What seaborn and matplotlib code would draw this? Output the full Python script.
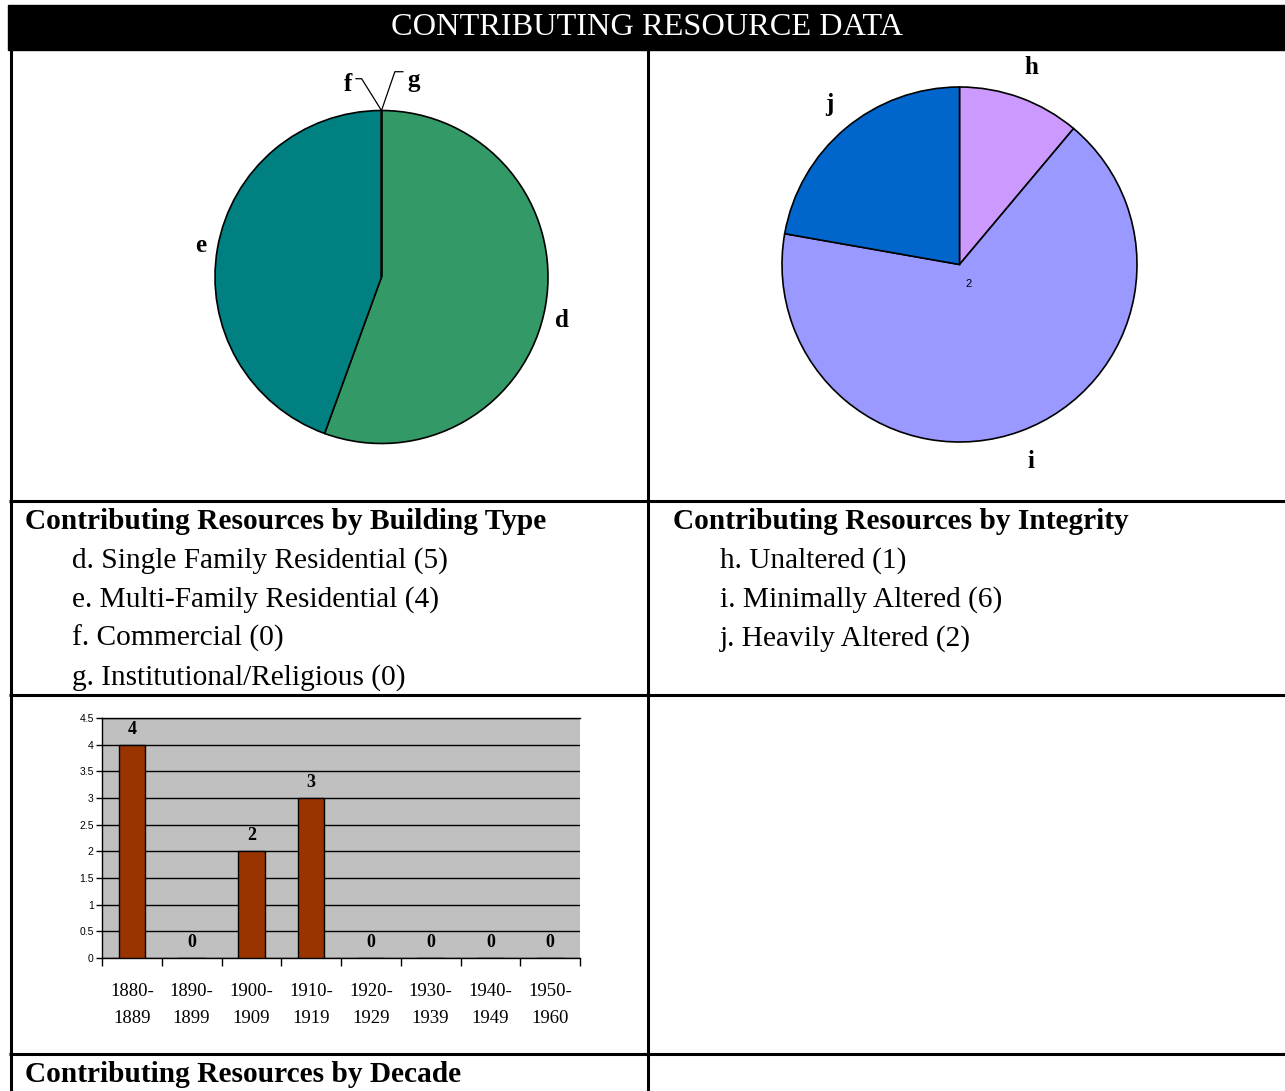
import numpy as np
import matplotlib
matplotlib.use("Agg")
import matplotlib.pyplot as plt
import seaborn as sns

# Contributing resources by building type
type_letters = ["d", "e", "f", "g"]
type_names = ["Single Family Residential", "Multi-Family Residential",
              "Commercial", "Institutional/Religious"]
type_counts = [5, 4, 0, 0]
type_colors = ["#339966", "#008080", "#333399", "#FFFF99"]

# Contributing resources by integrity
integ_letters = ["h", "i", "j"]
integ_names = ["Unaltered", "Minimally Altered", "Heavily Altered"]
integ_counts = [1, 6, 2]
integ_colors = ["#CC99FF", "#9999FF", "#0066CC"]

# Contributing resources by decade
decades = ["1880-\n1889", "1890-\n1899", "1900-\n1909", "1910-\n1919",
           "1920-\n1929", "1930-\n1939", "1940-\n1949", "1950-\n1960"]
decade_counts = [4, 0, 2, 3, 0, 0, 0, 0]

W, H = 1285, 1091
plt.rcParams["font.family"] = "Liberation Serif"

fig = plt.figure(figsize=(W / 100, H / 100), dpi=100)


def px_axes(left, top, width, height):
    return fig.add_axes([left / W, 1 - (top + height) / H, width / W, height / H])


# table frame, header and captions
frame = px_axes(0, 0, W, H)
frame.set_xlim(0, W)
frame.set_ylim(H, 0)
frame.axis("off")
frame.add_patch(plt.Rectangle((8, 5), W - 8, 45, color="black"))
frame.text(647, 27.5, "CONTRIBUTING RESOURCE DATA", color="white", fontsize=23.3,
           ha="center", va="center")
lw = 2.2
frame.vlines([10.5, 648], 49, H, color="black", lw=lw)
frame.hlines([500.5, 695, 1054], 9, W, color="black", lw=lw)

frame.text(25, 529, "Contributing Resources by Building Type", fontsize=21.2,
           fontweight="bold", va="baseline")
for k, (l, n, c) in enumerate(zip(type_letters, type_names, type_counts)):
    frame.text(72, 568 + 38.8 * k, f"{l}. {n} ({c})", fontsize=21.2, va="baseline")

frame.text(673, 529, "Contributing Resources by Integrity", fontsize=21.2,
           fontweight="bold", va="baseline")
for k, (l, n, c) in enumerate(zip(integ_letters, integ_names, integ_counts)):
    frame.text(720, 568 + 38.8 * k, f"{l}. {n} ({c})", fontsize=21.2, va="baseline")

frame.text(25, 1082, "Contributing Resources by Decade", fontsize=21.2,
           fontweight="bold", va="baseline")

label_font = dict(fontsize=18, fontweight="bold")

# pie 1: building type
ax1 = px_axes(215, 110.5, 333, 333)
wedges1, texts1 = ax1.pie(type_counts, colors=type_colors, startangle=90,
                          counterclock=False,
                          labels=["d", "e", "", ""], labeldistance=1.1,
                          wedgeprops=dict(edgecolor="black", linewidth=1.2),
                          textprops=label_font)
for t in texts1:
    t.set_ha("center")
texts1[0].set_va("top")
for w in wedges1:
    w.set_clip_on(False)
ax1.set_xlim(-1, 1)
ax1.set_ylim(-1, 1)

# zero slices get leader lines
for w, letter, off, rel, angB in [(wedges1[2], "f", (-34, 20), (1, 0.73), 122),
                                  (wedges1[3], "g", (32, 24), (0, 0.86), 71)]:
    t = np.deg2rad(w.theta1)
    ax1.annotate(letter, xy=(np.cos(t), np.sin(t)), xytext=off,
                 textcoords="offset pixels", ha="center", va="baseline",
                 arrowprops=dict(arrowstyle="-", color="black", lw=0.9, relpos=rel,
                                 connectionstyle=f"angle,angleA=0,angleB={angB},rad=0",
                                 shrinkA=1, shrinkB=0),
                 **label_font)

# pie 2: integrity
ax2 = px_axes(782, 87, 355, 355)
wedges2, texts2 = ax2.pie(integ_counts, colors=integ_colors, startangle=90,
                          counterclock=False, labels=integ_letters,
                          labeldistance=1.18,
                          wedgeprops=dict(edgecolor="black", linewidth=1.2),
                          textprops=label_font)
for t in texts2:
    t.set_ha("center")
texts2[2].set_ha("left")
for w in wedges2:
    w.set_clip_on(False)
ax2.set_xlim(-1, 1)
ax2.set_ylim(-1, 1)
ax2.text(0.05, -0.11, str(integ_counts[2]), family="Liberation Sans", fontsize=8,
         ha="center", va="center")

# bar chart: decade
axb = px_axes(102, 718, 478, 240)
axb.set_facecolor("#C0C0C0")
sns.barplot(x=decades, y=decade_counts, color="#993300", saturation=1,
            edgecolor="black", linewidth=1, width=0.44, ax=axb, zorder=3)
axb.bar_label(axb.containers[0], padding=5, fontsize=13, fontweight="bold")
axb.set_ylim(0, 4.5)
yt = np.arange(0, 4.51, 0.5)
axb.set_yticks(yt)
axb.set_yticklabels([f"{v:g}" for v in yt], family="Liberation Sans", fontsize=7.5)
axb.yaxis.grid(True, color="black", linewidth=1)
axb.set_axisbelow(True)
axb.set_xlabel("")
axb.set_ylabel("")
axb.set_xticks(np.arange(len(decades)))
axb.set_xticklabels(decades, fontsize=13.5)
axb.set_xticks(np.arange(-0.5, len(decades)), minor=True)
axb.tick_params(axis="y", length=4, width=1, pad=2, color="black")
axb.tick_params(axis="x", which="major", length=0, pad=18)
axb.tick_params(axis="x", which="minor", length=6, width=1, color="black")
axb.spines["right"].set_visible(False)
for s in ["left", "bottom", "top"]:
    axb.spines[s].set_color("black")
    axb.spines[s].set_linewidth(1)

# two-line decade labels need wider line spacing
fig.canvas.draw()
for lbl in axb.get_xticklabels():
    lbl.set_linespacing(1.75)

fig.savefig("out.png", dpi=100)
